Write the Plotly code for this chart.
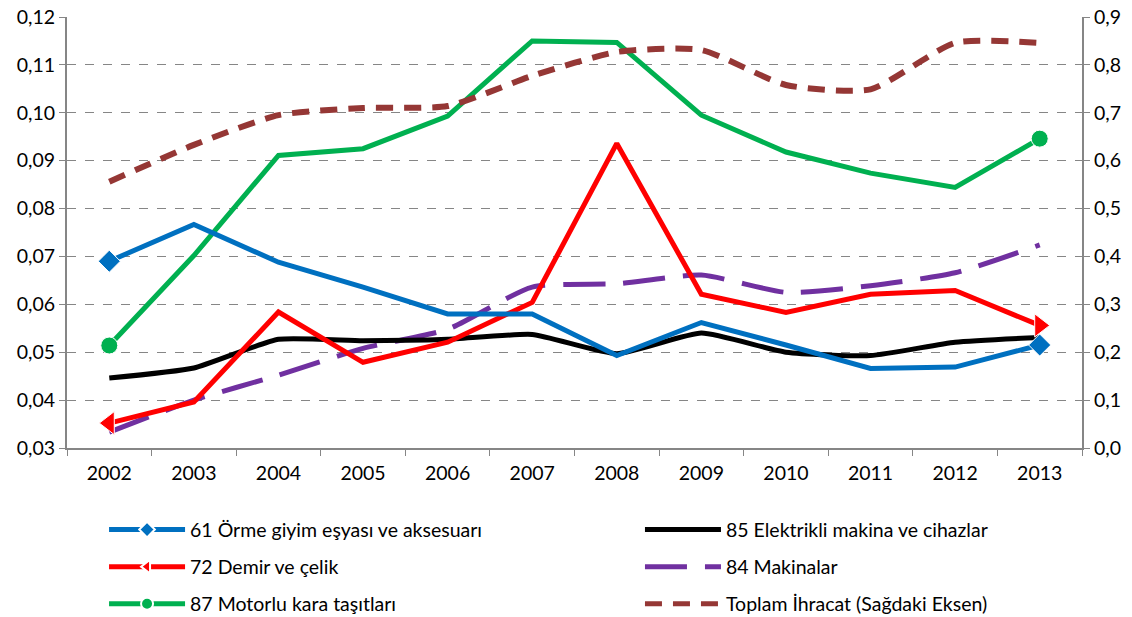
import plotly.graph_objects as go

years = ["2002", "2003", "2004", "2005", "2006", "2007", "2008", "2009", "2010", "2011", "2012", "2013"]

orme_61 = [0.0690, 0.0767, 0.0688, 0.0636, 0.0580, 0.0580, 0.0493, 0.0562, 0.0515, 0.0466, 0.0469, 0.0515]
elektrikli_85 = [0.0446, 0.0467, 0.0527, 0.0524, 0.0527, 0.0537, 0.0497, 0.0540, 0.0500, 0.0493, 0.0521, 0.0531]
demir_72 = [0.0352, 0.0396, 0.0584, 0.0479, 0.0521, 0.0604, 0.0936, 0.0621, 0.0583, 0.0621, 0.0629, 0.0556]
makina_84 = [0.0333, 0.0400, 0.0452, 0.0508, 0.0548, 0.0636, 0.0643, 0.0661, 0.0625, 0.0639, 0.0666, 0.0724]
motorlu_87 = [0.0514, 0.0702, 0.0911, 0.0925, 0.0993, 0.1150, 0.1147, 0.0995, 0.0918, 0.0874, 0.0844, 0.0946]
toplam = [0.556, 0.633, 0.695, 0.710, 0.714, 0.777, 0.827, 0.831, 0.758, 0.749, 0.846, 0.846]

names = [
    "61 Örme giyim eşyası ve aksesuarı",
    "85 Elektrikli makina ve cihazlar",
    "72 Demir ve çelik",
    "84 Makinalar",
    "87 Motorlu kara taşıtları",
    "Toplam İhracat (Sağdaki Eksen)",
]

FONT = "Lato, Carlito, Calibri, sans-serif"
n = len(years)


def ends(v):
    return [v] + [0] * (n - 2) + [v]


fig = go.Figure()

fig.add_trace(go.Scatter(
    x=years, y=makina_84, name=names[3], mode="lines", legend="legend4",
    line=dict(color="#7030A0", width=5, dash="42px,18px", shape="spline", smoothing=0.6),
))
fig.add_trace(go.Scatter(
    x=years, y=elektrikli_85, name=names[1], mode="lines", legend="legend2",
    line=dict(color="#000000", width=5, shape="spline", smoothing=0.5),
))
fig.add_trace(go.Scatter(
    x=years, y=demir_72, name=names[2], mode="lines+markers", legend="legend3",
    line=dict(color="#FF0000", width=5),
    marker=dict(symbol=["triangle-left"] + ["circle"] * (n - 2) + ["triangle-right"],
                size=ends(20), color="#FF0000", opacity=1),
))
fig.add_trace(go.Scatter(
    x=years, y=motorlu_87, name=names[4], mode="lines+markers", legend="legend5",
    line=dict(color="#00B050", width=5),
    marker=dict(symbol="circle", size=ends(17), color="#00B050", opacity=1),
))
fig.add_trace(go.Scatter(
    x=years, y=orme_61, name=names[0], mode="lines+markers", legend="legend",
    line=dict(color="#0070C0", width=5),
    marker=dict(symbol="diamond", size=ends(17), color="#0070C0", opacity=1),
))
fig.add_trace(go.Scatter(
    x=years, y=toplam, name=names[5], mode="lines", yaxis="y2", legend="legend6",
    line=dict(color="#953735", width=6, dash="17px,11px", shape="spline", smoothing=0.6),
))

leg_common = dict(orientation="h", xanchor="left", yanchor="middle", visible=True,
                  itemwidth=76, itemsizing="constant",
                  font=dict(family=FONT, size=19.5, color="#000000"),
                  bgcolor="rgba(0,0,0,0)")

axis_common = dict(ticks="outside", ticklen=6, tickcolor="#868686", showline=True,
                   linecolor="#868686", linewidth=2, automargin=False,
                   ticklabeloverflow="allow",
                   tickfont=dict(family=FONT, size=19.5, color="#000000"))

col1, col2 = 0.0365, 0.5645
rows = [-0.19, -0.276, -0.362]

fig.update_layout(
    width=1124, height=609,
    margin=dict(l=59, r=50, t=9, b=169, autoexpand=False),
    paper_bgcolor="white", plot_bgcolor="white",
    separators=",.",
    showlegend=True,
    font=dict(family=FONT, size=19.5, color="#000000"),
    xaxis=dict(type="category", range=[-0.5, n - 0.5], tickson="boundaries", showgrid=False,
               ticklabelstandoff=7, **axis_common),
    yaxis=dict(range=[0.03, 0.12], dtick=0.01, tick0=0.03, tickformat=".2f",
               showgrid=True, gridcolor="#868686", griddash="dash", gridwidth=1.3,
               zeroline=False, **axis_common),
    yaxis2=dict(range=[0.0, 0.9], dtick=0.1, tick0=0, tickformat=".1f", overlaying="y",
                side="right", showgrid=False, zeroline=False, **axis_common),
    legend=dict(x=col1, y=rows[0], **leg_common),
    legend2=dict(x=col2, y=rows[0], **leg_common),
    legend3=dict(x=col1, y=rows[1], **leg_common),
    legend4=dict(x=col2, y=rows[1], **leg_common),
    legend5=dict(x=col1, y=rows[2], **leg_common),
    legend6=dict(x=col2, y=rows[2], **leg_common),
)

fig.write_html("out.html")
